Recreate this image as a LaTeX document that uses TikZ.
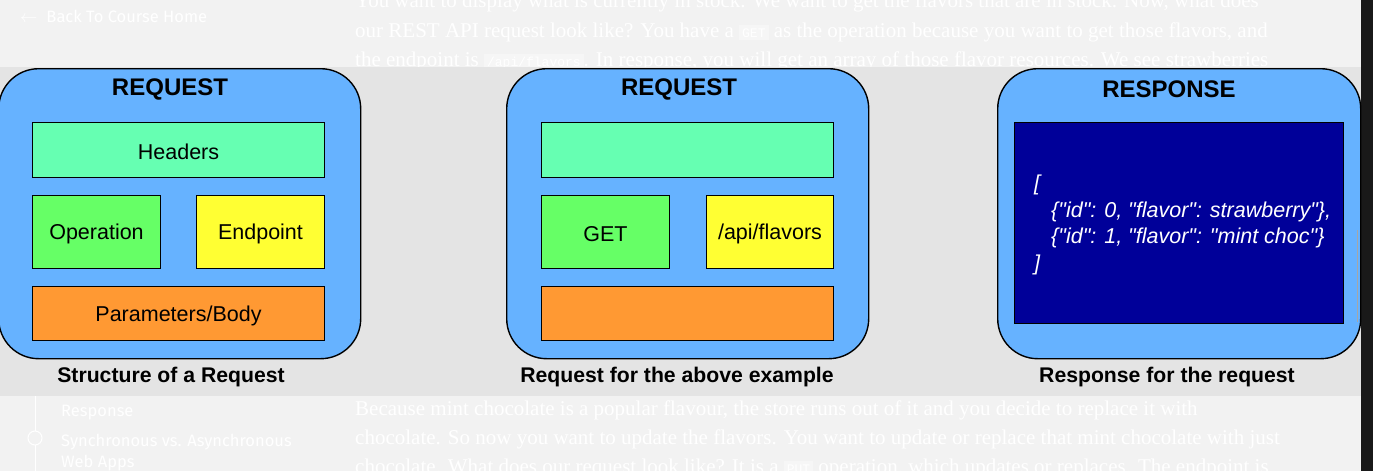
\documentclass[tikz,border=0pt]{standalone}
\usepackage{fontspec}
\setmainfont{Liberation Sans}
\newfontfamily\jsonfont{Liberation Sans}[Ligatures=TeXOff]
\newfontfamily\serifbg{Liberation Serif}
\newfontfamily\monobg{Liberation Mono}
\newfontfamily\sidebg{Fira Sans}
\definecolor{pagebg}{HTML}{F2F2F2}
\definecolor{bandbg}{HTML}{E4E4E4}
\definecolor{stripbg}{HTML}{191919}
\definecolor{boxblue}{HTML}{66B2FF}
\definecolor{mint}{HTML}{66FFB2}
\definecolor{opgreen}{HTML}{66FF66}
\definecolor{epyellow}{HTML}{FFFF33}
\definecolor{parorange}{HTML}{FF9933}
\definecolor{navy}{HTML}{000099}
\definecolor{codebg}{HTML}{F6F6F6}
\begin{document}
\begin{tikzpicture}[x=1pt,y=-1pt,
  bgtext/.style={text=white, inner sep=0pt, anchor=base west, font=\serifbg\fontsize{21}{25}\selectfont},
  sidetext/.style={text=white, inner sep=0pt, anchor=base west, font=\sidebg\fontsize{16.5}{20}\selectfont},
  outerbox/.style={draw=black, line width=1.4pt, fill=boxblue, rounded corners=40pt, anchor=north west, inner sep=0pt},
  innerbox/.style={draw=black, line width=1pt, anchor=north west, inner sep=0pt},
  boxlabel/.style={inner sep=0pt, font=\fontsize{21.5}{25}\selectfont},
  title/.style={font=\bfseries\fontsize{24}{28}\selectfont, inner sep=0pt},
  caption/.style={font=\bfseries\fontsize{21.2}{24}\selectfont, inner sep=0pt}
]
\useasboundingbox (0,0) rectangle (1373,471);
% page background
\fill[pagebg] (0,0) rectangle (1361,471);
\fill[stripbg] (1361,0) rectangle (1373,471);
% faded page text (top)
\node[sidetext] (back) at (20,22) {$\leftarrow$\hspace{9pt}Back To Course Home};
\node[bgtext] (t1) at (355,8) {You want to display what is currently in stock. We want to get the flavors that are in stock. Now, what does};
\node[bgtext] (t2) at (355,37) {our REST API request look like? You have a \colorbox{codebg}{\monobg\fontsize{13}{15}\selectfont\textcolor{white}{GET}} as the operation because you want to get those flavors, and};
\node[bgtext] (t3) at (355,66) {the endpoint is \colorbox{codebg}{\monobg\fontsize{13}{15}\selectfont\textcolor{white}{/api/flavors}}. In response, you will get an array of those flavor resources. We see strawberries};
% band
\fill[bandbg] (0,67) rectangle (1361,396);
% faded page text (bottom)
\draw[white, line width=1pt] (35,396) -- (35,431);
\draw[white, line width=1pt] (35,445) -- (35,471);
\node[draw=white, line width=1pt, circle, minimum size=14pt, inner sep=0pt] (dot) at (35,438) {};
\node[sidetext] (s1) at (61,416) {Response};
\node[sidetext] (s2) at (61,446) {Synchronous vs. Asynchronous};
\node[sidetext] (s3) at (61,467) {Web Apps};
\node[bgtext] (b1) at (355,415) {Because mint chocolate is a popular flavour, the store runs out of it and you decide to replace it with};
\node[bgtext] (b2) at (355,444) {chocolate. So now you want to update the flavors. You want to update or replace that mint chocolate with just};
\node[bgtext] (b3) at (355,473) {chocolate. What does our request look like? It is a \colorbox{codebg}{\monobg\fontsize{13}{15}\selectfont\textcolor{white}{PUT}} operation, which updates or replaces. The endpoint is};

% ---- Panel 1: structure of a request
\node[outerbox, minimum width=362, minimum height=290] (p1) at (-2,68) {};
\node[title] (p1t) at (170,89) {REQUEST};
\node[innerbox, fill=mint, minimum width=292, minimum height=55] (hdr1) at (32,122) {};
\node[boxlabel] at ([yshift=-2]hdr1.center) {Headers};
\node[innerbox, fill=opgreen, minimum width=128, minimum height=73] (op1) at (32,195) {};
\node[boxlabel] at ([yshift=-2]op1.center) {Operation};
\node[innerbox, fill=epyellow, minimum width=128, minimum height=73] (ep1) at (196,195) {};
\node[boxlabel] at ([yshift=-2]ep1.center) {Endpoint};
\node[innerbox, fill=parorange, minimum width=292, minimum height=54] (par1) at (32,286) {};
\node[boxlabel] at ([yshift=-2]par1.center) {Parameters/Body};
\node[caption] (c1) at (171,377) {Structure of a Request};

% ---- Panel 2: request example
\node[outerbox, minimum width=362, minimum height=290] (p2) at (506,68) {};
\node[title] (p2t) at (679,89) {REQUEST};
\node[innerbox, fill=mint, minimum width=292, minimum height=55] (hdr2) at (541,122) {};
\node[innerbox, fill=opgreen, minimum width=128, minimum height=73] (op2) at (541,195) {};
\node[boxlabel] at ([yshift=-2]op2.center) {GET};
\node[innerbox, fill=epyellow, minimum width=127, minimum height=73] (ep2) at (706,195) {};
\node[boxlabel] at ([yshift=-2]ep2.center) {/api/flavors};
\node[innerbox, fill=parorange, minimum width=292, minimum height=54] (par2) at (541,286) {};
\node[caption] (c2) at (677,377) {Request for the above example};

% ---- Panel 3: response
\node[outerbox, minimum width=363, minimum height=290] (p3) at (997,68) {};
\node[title] (p3t) at (1169,89) {RESPONSE};
\node[innerbox, fill=navy, minimum width=329, minimum height=201] (js) at (1014,122) {};
\node[anchor=north west, inner sep=0pt, text=white, align=left,
      font=\jsonfont\itshape\fontsize{21.5}{26.5}\selectfont] (jstext) at (1034,175)
  {[\\
   \hspace{17pt}\{"id": 0, "flavor": strawberry"\},\\
   \hspace{17pt}\{"id": 1, "flavor": "mint choc"\}\\
   ]};
\draw[gray!70, line width=1pt] (1357,230) -- (1357,322);
\node[caption] (c3) at (1167,377) {Response for the request};
\end{tikzpicture}
\end{document}
